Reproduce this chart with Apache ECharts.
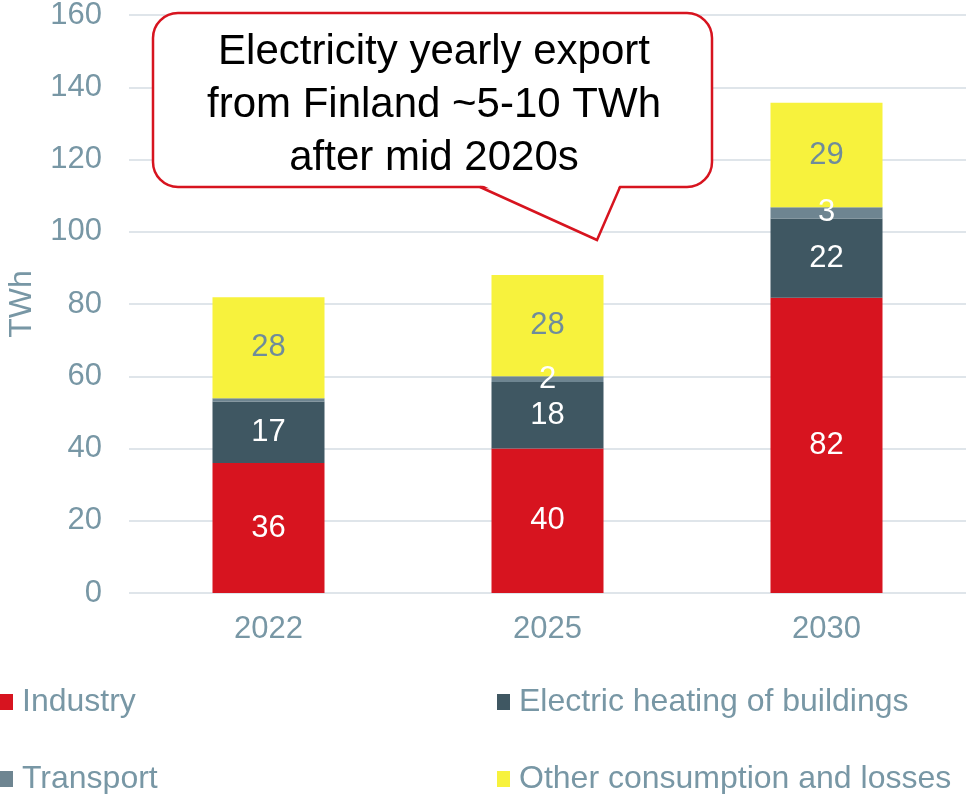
<!DOCTYPE html>
<html><head><meta charset="utf-8">
<script src="https://cdn.jsdelivr.net/npm/echarts@6/dist/echarts.min.js"></script>
<style>html,body{margin:0;padding:0;background:#fff}#c{width:966px;height:794px}</style>
</head><body><div id="c"></div>
<script>
const categories = ['2022', '2025', '2030'];
const industry = [36, 40, 81.7];
const heating = [17, 18.4, 22];
const transport = [0.9, 1.6, 3.1];
const other = [28, 28, 28.9];
const seriesNames = ['Industry', 'Electric heating of buildings', 'Transport', 'Other consumption and losses'];
const yTicks = [0, 20, 40, 60, 80, 100, 120, 140, 160];
const calloutLines = ['Electricity yearly export', 'from Finland ~5-10 TWh', 'after mid 2020s'];

const FONT = '"Liberation Sans", Arial, sans-serif';
const AXIS_C = '#7897A5';
const colors = ['#D7141F', '#3F5762', '#6E8591', '#F7F23D'];
const labelColors = ['#ffffff', '#ffffff', '#ffffff', '#6F8C9B'];
const datas = [industry, heating, transport, other];

const chart = echarts.init(document.getElementById('c'), null, {renderer: 'canvas'});
const series = datas.map((d, i) => ({
  name: seriesNames[i],
  type: 'bar',
  stack: 'total',
  barWidth: 112,
  data: d,
  itemStyle: {color: colors[i]},
  label: {
    show: true,
    position: 'inside',
    color: labelColors[i],
    fontFamily: FONT,
    fontSize: 31,
    formatter: p => p.value < 1.2 ? '' : String(Math.round(p.value))
  }
}));

const legendPos = [
  {left: 0, top: 686}, {left: 497, top: 686},
  {left: 0, top: 763}, {left: 497, top: 763}
];
const legends = seriesNames.map((n, i) => ({
  data: [n],
  left: legendPos[i].left,
  top: legendPos[i].top,
  itemWidth: 13,
  itemHeight: 16,
  itemGap: 0,
  padding: 0,
  icon: 'rect',
  selectedMode: false,
  textStyle: {color: AXIS_C, fontFamily: FONT, fontSize: 32, padding: [0, 0, 0, 4]}
}));

const L = 153, R = 712, T = 13, B = 187, r = 25;
const tailL = 480, tailR = 620, tipX = 597, tipY = 240;

chart.setOption({
  animation: false,
  grid: {left: 129, right: 0, top: 15, bottom: 201, containLabel: false, outerBoundsMode: 'none'},
  legend: legends,
  xAxis: {
    type: 'category',
    data: categories,
    axisLine: {show: false},
    axisTick: {show: false},
    axisLabel: {color: AXIS_C, fontFamily: FONT, fontSize: 31, margin: 21}
  },
  yAxis: {
    type: 'value',
    min: yTicks[0],
    max: yTicks[yTicks.length - 1],
    interval: 20,
    name: 'TWh',
    nameLocation: 'middle',
    nameGap: 91,
    nameRotate: 90,
    nameTextStyle: {color: AXIS_C, fontFamily: FONT, fontSize: 32},
    axisLine: {show: false},
    axisTick: {show: false},
    axisLabel: {color: AXIS_C, fontFamily: FONT, fontSize: 31, margin: 27},
    splitLine: {lineStyle: {color: '#DFE5EA', width: 2}}
  },
  series: series,
  graphic: [
    {type: 'rect', z: 100, shape: {x: L, y: T, width: R - L, height: B - T, r: r},
      style: {fill: '#ffffff', stroke: '#D7141F', lineWidth: 2.5}},
    {type: 'polygon', z: 101, shape: {points: [[tailL, B - 3], [tipX, tipY], [tailR, B - 3]]},
      style: {fill: '#ffffff', stroke: null}},
    {type: 'polyline', z: 102, shape: {points: [[tailL, B], [tipX, tipY], [tailR, B]]},
      style: {fill: null, stroke: '#D7141F', lineWidth: 2.5, lineJoin: 'miter'}},
    {type: 'text', z: 103, x: 434, y: 26, style: {
      text: calloutLines.join('\n'), textAlign: 'center', fill: '#000000',
      fontFamily: FONT, fontSize: 42, lineHeight: 53
    }}
  ]
});
</script></body></html>
